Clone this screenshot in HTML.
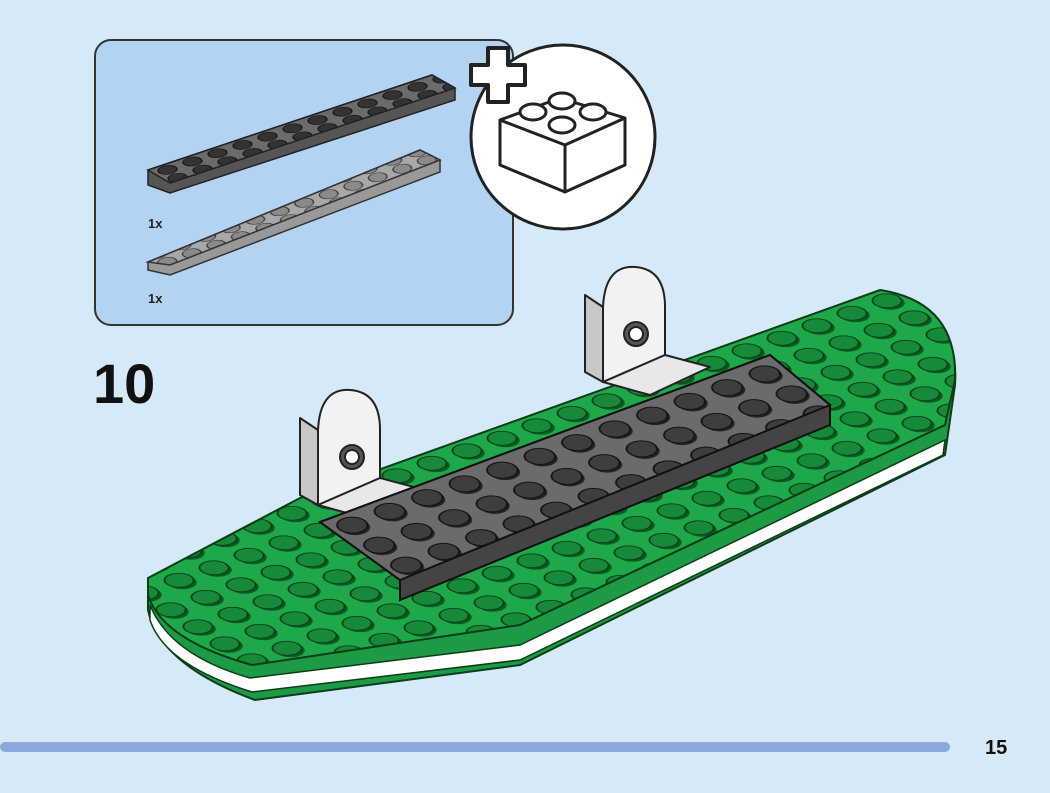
<!DOCTYPE html>
<html><head><meta charset="utf-8"><style>
html,body{margin:0;padding:0;background:#d5e9f8;}
body{width:1050px;height:793px;overflow:hidden;position:relative;font-family:"Liberation Sans",sans-serif;}
</style></head><body>
<svg width="1050" height="793" viewBox="0 0 1050 793" xmlns="http://www.w3.org/2000/svg" style="position:absolute;left:0;top:0">
<defs>
<pattern id="gstud" patternUnits="userSpaceOnUse" width="1" height="1" patternTransform="matrix(35,-12.5,27,17,148,578)">
<rect width="1" height="1" fill="#1fa84a"/>
<ellipse cx=".5" cy=".62" rx=".33" ry=".33" fill="#0a5a22"/>
<ellipse cx=".5" cy=".5" rx=".33" ry=".33" fill="#178a3a" stroke="#0b3d18" stroke-width=".04"/>
</pattern>
<pattern id="dstud" patternUnits="userSpaceOnUse" width="1" height="1" patternTransform="matrix(37.5,-13.75,27,20,320,522)">
<rect width="1" height="1" fill="#6b6b6b"/>
<ellipse cx=".5" cy=".6" rx=".33" ry=".33" fill="#222"/>
<ellipse cx=".5" cy=".5" rx=".33" ry=".33" fill="#3e3e3e" stroke="#111" stroke-width=".04"/>
</pattern>
<pattern id="pdstud" patternUnits="userSpaceOnUse" width="1" height="1" patternTransform="matrix(25,-8.3,10,8,150,170)">
<rect width="1" height="1" fill="#6b6b6b"/>
<ellipse cx=".5" cy=".5" rx=".33" ry=".45" fill="#333" stroke="#111" stroke-width=".05"/>
</pattern>
<pattern id="plstud" patternUnits="userSpaceOnUse" width="1" height="1" patternTransform="matrix(24.5,-8.5,10,8,150,262)">
<rect width="1" height="1" fill="#a8a8a8"/>
<ellipse cx=".5" cy=".5" rx=".33" ry=".45" fill="#8a8a8a" stroke="#333" stroke-width=".05"/>
</pattern>
</defs>

<!-- panel -->
<rect x="95" y="40" width="418" height="285" rx="16" fill="#b2d3f1" stroke="#333" stroke-width="2"/>
<polygon points="148,170 432,75 455,88 455,100 170,193 148,185" fill="#555" stroke="#222" stroke-width="1.5"/>
<polygon points="148,170 432,75 455,88 170,183" fill="url(#pdstud)" stroke="#222" stroke-width="1.5"/>
<polygon points="148,262 420,150 440,160 440,172 170,275 148,270" fill="#999" stroke="#333" stroke-width="1.5"/>
<polygon points="148,262 420,150 440,160 170,265" fill="url(#plstud)" stroke="#333" stroke-width="1.5"/>
<text x="148" y="228" font-size="13" font-weight="bold" fill="#222">1x</text>
<text x="148" y="303" font-size="13" font-weight="bold" fill="#222">1x</text>

<!-- circle -->
<circle cx="563" cy="137" r="92" fill="#fff" stroke="#222" stroke-width="3"/>
<path d="M488,48 h20 v17 h17 v20 h-17 v17 h-20 v-17 h-17 v-20 h17 z" fill="#fff" stroke="#222" stroke-width="4" stroke-linejoin="round"/>
<g fill="#fff" stroke="#222" stroke-width="3" stroke-linejoin="round">
<polygon points="500,120 560,98 625,118 625,165 565,192 500,165"/>
<polyline points="500,120 565,145 625,118" fill="none"/>
<line x1="565" y1="145" x2="565" y2="192"/>
<ellipse cx="533" cy="112" rx="13" ry="8"/><ellipse cx="562" cy="101" rx="13" ry="8"/>
<ellipse cx="562" cy="125" rx="13" ry="8"/><ellipse cx="593" cy="112" rx="13" ry="8"/>
</g>

<text x="93" y="403" font-size="56" font-weight="bold" fill="#111">10</text>

<!-- green base -->
<path d="M148,582 L300,505 L880,293 Q960,305 955,385 L945,455 L520,665 L255,700 Q160,665 148,610 Z" fill="#1c9a44" stroke="#0b3d18" stroke-width="2"/>
<path d="M150,605 Q170,655 250,678 L520,645 L945,440 L943,455 L520,660 L252,692 Q165,665 150,620 Z" fill="#fff" stroke="#0b3d18" stroke-width="1.5"/>
<path d="M148,578 L300,498 L880,290 Q958,302 955,380 L945,425 L520,625 L252,665 Q162,640 148,595 Z" fill="url(#gstud)" stroke="#0b3d18" stroke-width="2"/>

<!-- brackets -->
<g stroke="#222" stroke-width="2" stroke-linejoin="round">
<path d="M300,418 L300,495 L318,505 L318,430 Z" fill="#c8c8c8"/>
<path d="M318,430 Q320,388 350,390 Q380,392 380,430 L380,478 L318,505 Z" fill="#f2f2f2"/>
<circle cx="352" cy="457" r="12" fill="#555"/><circle cx="352" cy="457" r="7" fill="#fff"/>
<path d="M585,295 L585,372 L603,382 L603,307 Z" fill="#c8c8c8"/>
<path d="M603,307 Q605,265 635,267 Q665,269 665,307 L665,355 L603,382 Z" fill="#f2f2f2"/>
<circle cx="636" cy="334" r="12" fill="#555"/><circle cx="636" cy="334" r="7" fill="#fff"/>
<polygon points="318,505 380,478 425,490 365,518" fill="#e8e8e8"/>
<polygon points="603,382 665,355 710,367 650,395" fill="#e8e8e8"/>
</g>

<!-- dark plate -->
<polygon points="320,522 770,355 830,405 830,425 400,600 400,580" fill="#444" stroke="#111" stroke-width="2"/>
<polygon points="320,522 770,355 830,405 400,580" fill="url(#dstud)" stroke="#111" stroke-width="2"/>

<!-- bottom bar -->
<rect x="0" y="742" width="950" height="10" rx="5" fill="#8aa9de"/>
<text x="985" y="754" font-size="20" font-weight="bold" fill="#111">15</text>
</svg>
</body></html>
